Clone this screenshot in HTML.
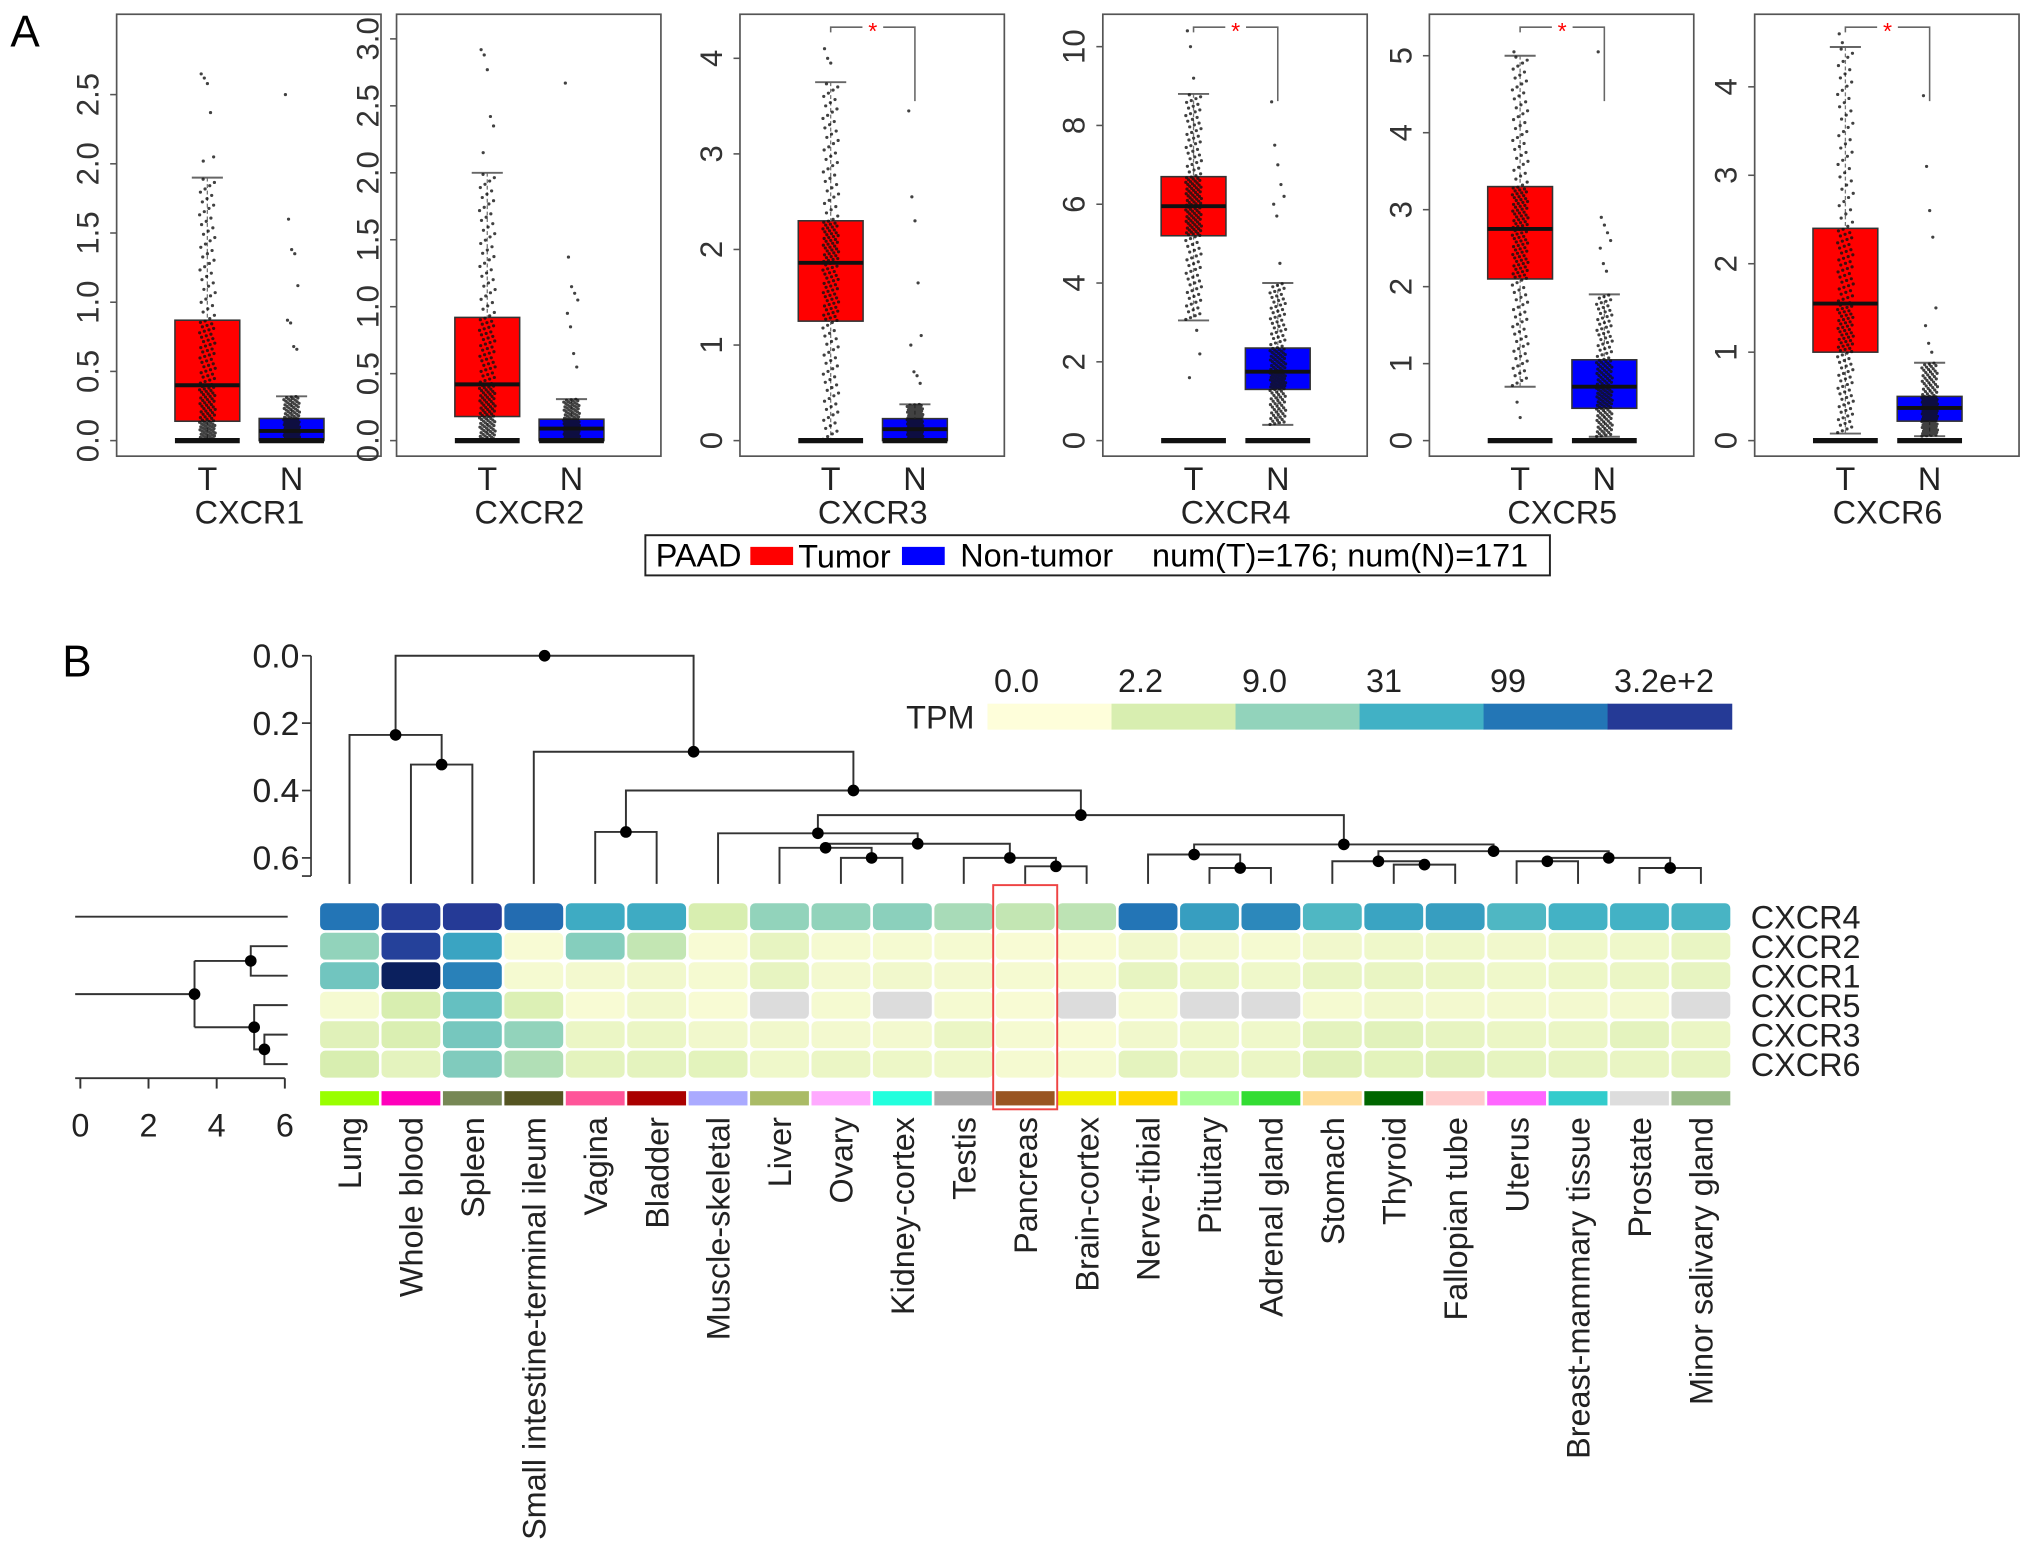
<!DOCTYPE html>
<html><head><meta charset="utf-8"><style>
html,body{margin:0;padding:0;background:#fff}
svg{display:block;font-family:"Liberation Sans",Arial,sans-serif}
</style></head><body>
<svg id="fig" xmlns="http://www.w3.org/2000/svg" width="2032" height="1559" viewBox="0 0 1568 1203" preserveAspectRatio="none">
<text x="8" y="36" font-size="34">A</text>
<text x="48" y="522" font-size="34">B</text>
<g id="pa"></g>
<g>
<rect x="498" y="413" width="698" height="31" fill="none" stroke="#222" stroke-width="1.5"/>
<text x="506" y="437" font-size="25">PAAD</text>
<rect x="579" y="422" width="33" height="14" fill="#f00"/>
<text x="616" y="438" font-size="25">Tumor</text>
<rect x="696" y="422" width="33" height="14" fill="#00f"/>
<text x="741" y="437" font-size="25">Non-tumor</text>
<text x="889" y="437" font-size="25">num(T)=176; num(N)=171</text>
</g>
<g id="pb"></g>
</svg>
<script>
// ---------- Panel A data ----------
const genesA = ["CXCR1","CXCR2","CXCR3","CXCR4","CXCR5","CXCR6"];
const yMaxTick = [2.5,3.0,4,10,5,4];
const yTickStep = [0.5,0.5,1,2,1,1];
const yTickDec = [1,1,0,0,0,0];
const tumorLo = [0,0,0,3.05,0.7,0.08];
const tumorQ1 = [0.14,0.18,1.25,5.2,2.1,1.0];
const tumorMed = [0.40,0.42,1.86,5.95,2.75,1.55];
const tumorQ3 = [0.87,0.92,2.3,6.7,3.3,2.4];
const tumorHi = [1.9,2.0,3.75,8.8,5.0,4.45];
const normalLo = [0,0,0,0.4,0.05,0.05];
const normalQ1 = [0.0,0.0,0.0,1.3,0.42,0.22];
const normalMed = [0.07,0.09,0.12,1.75,0.7,0.37];
const normalQ3 = [0.16,0.16,0.23,2.35,1.05,0.5];
const normalHi = [0.32,0.31,0.38,4.0,1.9,0.88];
const tumorOut = [[2.65,2.62,2.58,2.37,2.05,2.02],[2.92,2.88,2.77,2.42,2.35,2.15],[4.1,4.0,3.95],[10.4,10.0,9.2,2.8,2.2,1.6],[5.05,0.5,0.3],[4.6,4.5]];
const normalOut = [[2.5,1.6,1.38,1.35,1.12,0.87,0.85,0.68,0.66],[2.67,1.37,1.15,1.1,1.05,0.95,0.85,0.65,0.55],[3.45,2.55,2.3,1.65,1.1,1.0,0.72,0.68,0.6],[8.6,7.5,7.0,6.5,6.2,6.0,5.7,4.5],[5.05,2.9,2.8,2.7,2.6,2.5,2.3,2.2],[3.9,3.1,2.6,2.3,1.5,1.3,1.1,1.0]];
const significant = [false,false,true,true,true,true];
const nTumor = 176, nNormal = 171;

// ---------- Panel B data ----------
const tissues = ["Lung","Whole blood","Spleen","Small intestine-terminal ileum","Vagina","Bladder","Muscle-skeletal","Liver","Ovary","Kidney-cortex","Testis","Pancreas","Brain-cortex","Nerve-tibial","Pituitary","Adrenal gland","Stomach","Thyroid","Fallopian tube","Uterus","Breast-mammary tissue","Prostate","Minor salivary gland"];
const tissueColors = ["#99ff00","#ff00bb","#778855","#555522","#ff5599","#aa0000","#aaaaff","#aabb66","#ffaaff","#22ffdd","#aaaaaa","#995522","#eeee00","#ffd700","#aaff99","#33dd33","#ffdd99","#006600","#ffcccc","#ff66ff","#33cccc","#dddddd","#99bb88"];
const genesB = ["CXCR4","CXCR2","CXCR1","CXCR5","CXCR3","CXCR6"];
// TPM values, rows = genesB, null = NA
const tpmCXCR4 = [100,300,320,120,35,35,2.2,9,9,10,6,3.5,4,100,45,70,25,40,45,25,30,30,28];
const tpmCXCR2 = [9,280,40,0.2,11,3.5,0.2,1.0,0.3,0.3,0.3,0.2,0.2,0.5,0.4,0.3,0.5,0.6,0.6,0.5,0.6,0.6,0.9];
const tpmCXCR1 = [15,900,80,0.3,0.4,0.5,0.3,1.0,0.4,0.5,0.4,0.3,0.3,1.0,0.8,0.6,0.9,0.9,0.8,0.6,0.7,0.8,1.0];
const tpmCXCR5 = [0.3,2.2,18,1.8,0.2,0.5,0.2,null,0.3,null,0.3,0.2,null,0.3,null,null,0.3,0.5,0.4,0.4,0.4,0.4,null];
const tpmCXCR3 = [1.5,2,14,9,0.8,0.8,0.5,0.5,0.4,0.4,0.8,0.3,0.2,0.5,0.6,0.6,1.2,1.4,1.0,0.8,0.8,1.2,0.8];
const tpmCXCR6 = [2.2,1.2,12,5,1.2,1.2,1.3,0.6,0.8,0.7,0.6,0.3,0.3,1.2,0.8,0.8,1.5,1.3,1.5,1.1,1.0,0.9,1.0];
const legendTicks = ["0.0","2.2","9.0","31","99","3.2e+2"];
const legendBreaks = [0,2.2,9,31,99,320];
// column dendrogram merges (R hclust style: negative = leaf index+1, positive = merge number)
const mergeLeft  = [-2,-1,-5,-9,-8,-12,-11,5,-7,-15,-14,-18,-17,-20,-22,14,13,11,9,3,-4,2];
const mergeRight = [-3,1,-6,-10,4,-13,6,7,8,-16,10,-19,12,-21,-23,15,16,17,18,19,20,21];
const mergeHeight = [0.323,0.235,0.523,0.60,0.57,0.625,0.60,0.558,0.527,0.63,0.59,0.62,0.61,0.61,0.63,0.60,0.58,0.56,0.473,0.40,0.285,0.0];
const topAxisTicks = [0.0,0.2,0.4,0.6];
const leftAxisTicks = [0,2,4,6];
// row dendrogram (distance values)
const rowNodeDist = {c21:5.0, root:3.35, c5_36:5.1, c36:5.4};

const NS="http://www.w3.org/2000/svg";
function mk(tag, attrs, parent, txt){const e=document.createElementNS(NS,tag);for(const k in attrs)e.setAttribute(k,attrs[k]);if(txt!==undefined)e.textContent=txt;parent.appendChild(e);return e;}

// ---------- draw panel A ----------
const pa=document.getElementById('pa');
const frameLeft=[90,306,571,851,1103,1354], frameW=204, frameTop=11, frameBot=352, y0=340;
const yTopPx=[73,30,45,36,43,67];
genesA.forEach((g,i)=>{
  const gp=mk('g',{},pa);
  
  
  const fl=frameLeft[i];
  const ys=v=>y0-(v/yMaxTick[i])*(y0-yTopPx[i]);
  const fr=mk('rect',{x:fl,y:frameTop,width:frameW,height:frameBot-frameTop,fill:'none',stroke:'#555','stroke-width':1.3},gp);
  
  
  for(let v=0;v<=yMaxTick[i]+1e-9;v+=yTickStep[i]){
    const y=ys(v);
    mk('line',{x1:fl-5,x2:fl,y1:y,y2:y,stroke:'#555','stroke-width':1.2},gp);
    const t=mk('text',{x:0,y:0,'font-size':24,'text-anchor':'middle',fill:'#333',transform:`translate(${fl-14},${y}) rotate(-90)`},gp,v.toFixed(yTickDec[i]));
    
    
  }
  const xs=[fl+70,fl+135];
  const groups=[[tumorLo,tumorQ1,tumorMed,tumorQ3,tumorHi,tumorOut,'#ff0000',nTumor],[normalLo,normalQ1,normalMed,normalQ3,normalHi,normalOut,'#0000ff',nNormal]];
  groups.forEach((G,j)=>{
    const cx=xs[j], bw=50;
    const lo=G[0][i],q1=G[1][i],md=G[2][i],q3=G[3][i],hi=G[4][i];
    const b=mk('rect',{x:cx-bw/2,y:ys(q3),width:bw,height:ys(q1)-ys(q3),fill:G[6],stroke:'#333','stroke-width':1.2},gp);
    
    
    mk('line',{x1:cx,x2:cx,y1:ys(hi),y2:ys(q3),stroke:'#777','stroke-width':1,'stroke-dasharray':'3,2'},gp);
    mk('line',{x1:cx,x2:cx,y1:ys(q1),y2:ys(lo),stroke:'#777','stroke-width':1,'stroke-dasharray':'3,2'},gp);
    mk('line',{x1:cx-12,x2:cx+12,y1:ys(hi),y2:ys(hi),stroke:'#666','stroke-width':1.5},gp);
    if(lo>0.01) mk('line',{x1:cx-12,x2:cx+12,y1:ys(lo),y2:ys(lo),stroke:'#666','stroke-width':1.5},gp);
    // points placed at distribution positions implied by the box statistics
    const qs=[lo,q1,md,q3,hi], n=G[7];
    let pts='';
    for(let k=0;k<n;k++){
      const p=(k+0.5)/n*4, s=Math.min(3,Math.floor(p)), f=p-s;
      const v=qs[s]+(qs[s+1]-qs[s])*f;
      const jx=((k*53)%41-20)/20*6;
      pts+=`M${(cx+jx).toFixed(1)},${ys(v).toFixed(1)}h0.1`;
    }
    G[5][i].forEach((v,k)=>{const jx=((k*29)%13-6)*0.8;pts+=`M${(cx+jx).toFixed(1)},${ys(v).toFixed(1)}h0.1`;});
    const pp=mk('path',{d:pts,stroke:'#111','stroke-width':2.4,'stroke-linecap':'round',fill:'none',opacity:0.8},gp);
    
    
    mk('line',{x1:cx-bw/2,x2:cx+bw/2,y1:ys(md),y2:ys(md),stroke:'#111','stroke-width':3},gp);
    mk('line',{x1:cx-bw/2,x2:cx+bw/2,y1:y0,y2:y0,stroke:'#111','stroke-width':4},gp);
    const tl=mk('text',{x:cx,y:378,'font-size':25,'text-anchor':'middle',fill:'#222'},gp,j?'N':'T');
    
    
  });
  const gl=mk('text',{x:(xs[0]+xs[1])/2,y:404,'font-size':25,'text-anchor':'middle',fill:'#222'},gp,g);
  
  
  if(significant[i]){
    const yTop=21, yRight=78;
    const br=mk('path',{d:`M${xs[0]},${yTop+4}V${yTop}H${xs[1]}V${yRight}`,fill:'none',stroke:'#666','stroke-width':1.2},gp);
    
    
    mk('rect',{x:(xs[0]+xs[1])/2-8,y:yTop-3,width:16,height:6,fill:'#fff'},gp);
    const st=mk('text',{x:(xs[0]+xs[1])/2,y:yTop+9,'font-size':18,'text-anchor':'middle',fill:'#f00'},gp,'*');
    
    
  }
});

// ---------- draw panel B ----------
const pb=document.getElementById('pb');
const hx0=246, colW=47.4, hy0=696, rowH=22.75;
const colX=i=>hx0+colW*(i+0.5);
const dY=h=>506+h*260;
const leafBottom=682;
const stopV=[0,2.2,9,31,99,320,1000];
const stopC=["#fefedb","#d8eeb0","#92d3bb","#41b1c5","#2376b6","#253a96","#081d58"];
const binC=["#fefeda","#d8eeb0","#92d3bb","#41b1c5","#2376b6","#253a96"];
function hex2rgb(h){return [1,3,5].map(k=>parseInt(h.substr(k,2),16));}
function colorFor(v){
  if(v===null) return '#dcdcdc';
  const L=x=>Math.log10(x+1);
  for(let k=0;k<stopV.length-1;k++){
    if(v<=stopV[k+1]){const f=(L(v)-L(stopV[k]))/(L(stopV[k+1])-L(stopV[k]));
      const a=hex2rgb(stopC[k]),b=hex2rgb(stopC[k+1]);
      return `rgb(${a.map((c,m)=>Math.round(c+(b[m]-c)*f)).join(',')})`;}
  }
  return stopC[stopC.length-1];
}
const lg=mk('g',{},pb);


const tpmT=mk('text',{x:752,y:562,'font-size':25,'text-anchor':'end',fill:'#222'},lg,'TPM');


legendBreaks.forEach((b,k)=>{
  const bx=762+k*95.7;
  const r=mk('rect',{x:bx,y:543,width:96.2,height:20,fill:binC[k]},lg);
  
  
  const t=mk('text',{x:bx+5,y:534,'font-size':25,fill:'#222'},lg,legendTicks[k]);
  
  
});
const ta=mk('g',{},pb);


mk('line',{x1:240,x2:240,y1:dY(0),y2:676,stroke:'#333','stroke-width':1.3},ta);
mk('line',{x1:233,x2:240,y1:676,y2:676,stroke:'#333','stroke-width':1.3},ta);
topAxisTicks.forEach(v=>{
  mk('line',{x1:233,x2:240,y1:dY(v),y2:dY(v),stroke:'#333','stroke-width':1.3},ta);
  const t=mk('text',{x:231,y:dY(v)+9,'font-size':26,'text-anchor':'end',fill:'#222'},ta,v.toFixed(1));
  
  
});
const dg=mk('g',{},pb);


const nodeX=[], nodeY=[];
function childPos(c){return c<0?[colX(-c-1),leafBottom]:[nodeX[c-1],nodeY[c-1]];}
mergeLeft.forEach((l,m)=>{
  const a=childPos(l), b=childPos(mergeRight[m]), y=dY(mergeHeight[m]);
  nodeX[m]=(a[0]+b[0])/2; nodeY[m]=y;
  mk('path',{d:`M${a[0]},${a[1]}V${y}H${b[0]}V${b[1]}`,fill:'none',stroke:'#333','stroke-width':1.5},dg);
});
mergeLeft.forEach((l,m)=>{
  const c=mk('circle',{cx:nodeX[m],cy:nodeY[m],r:4.5,fill:'#000'},dg);
  
  
});
const tpmRows=[tpmCXCR4,tpmCXCR2,tpmCXCR1,tpmCXCR5,tpmCXCR3,tpmCXCR6];
const hg=mk('g',{},pb);


tpmRows.forEach((row,r)=>{
  row.forEach((v,c)=>{
    const cell=mk('rect',{x:hx0+colW*c+1,y:hy0+rowH*r+1,width:colW-2,height:rowH-2,rx:4,fill:colorFor(v)},hg);
    
    
  });
  const t=mk('text',{x:1351,y:hy0+rowH*(r+0.5)+9,'font-size':25,fill:'#222'},pb,genesB[r]);
  
  
});
tissues.forEach((t,c)=>{
  const s=mk('rect',{x:hx0+colW*c+1,y:842,width:colW-2,height:11,fill:tissueColors[c]},pb);
  
  
  const tx=mk('text',{x:0,y:0,'font-size':25,'text-anchor':'end',fill:'#222',transform:`translate(${colX(c)+9},862) rotate(-90)`},pb,t);
  
  
});
const hl=mk('rect',{x:hx0+colW*11-1,y:683,width:colW+2,height:173,fill:'none',stroke:'#ee4444','stroke-width':1.5},pb);


const rg=mk('g',{},pb);


const rX=v=>62+v*26.3, rowY=r=>hy0+rowH*(r+0.5), leafX=222;
const yA=(rowY(1)+rowY(2))/2, yD=(rowY(4)+rowY(5))/2, yC=(rowY(3)+yD)/2, yR=(yA+yC)/2;
const rl='#333';
mk('path',{d:`M58,${rowY(0)}H${leafX}`,stroke:rl,'stroke-width':1.5,fill:'none'},rg);
mk('path',{d:`M58,${yR}H${rX(rowNodeDist.root)}M${rX(rowNodeDist.root)},${yA}V${yC}M${rX(rowNodeDist.root)},${yA}H${rX(rowNodeDist.c21)}M${rX(rowNodeDist.root)},${yC}H${rX(rowNodeDist.c5_36)}`,stroke:rl,'stroke-width':1.5,fill:'none'},rg);
mk('path',{d:`M${leafX},${rowY(1)}H${rX(rowNodeDist.c21)}V${rowY(2)}H${leafX}`,stroke:rl,'stroke-width':1.5,fill:'none'},rg);
mk('path',{d:`M${leafX},${rowY(3)}H${rX(rowNodeDist.c5_36)}V${yD}H${rX(rowNodeDist.c36)}`,stroke:rl,'stroke-width':1.5,fill:'none'},rg);
mk('path',{d:`M${leafX},${rowY(4)}H${rX(rowNodeDist.c36)}V${rowY(5)}H${leafX}`,stroke:rl,'stroke-width':1.5,fill:'none'},rg);
[[rX(rowNodeDist.root),yR],[rX(rowNodeDist.c21),yA],[rX(rowNodeDist.c5_36),yC],[rX(rowNodeDist.c36),yD]].forEach(p=>{
  const c=mk('circle',{cx:p[0],cy:p[1],r:4.5,fill:'#000'},rg);
  
  
});
mk('line',{x1:58,x2:rX(6),y1:832,y2:832,stroke:'#333','stroke-width':1.5},rg);
leftAxisTicks.forEach(v=>{
  mk('line',{x1:rX(v),x2:rX(v),y1:832,y2:840,stroke:'#333','stroke-width':1.5},rg);
  const t=mk('text',{x:rX(v),y:877,'font-size':25,'text-anchor':'middle',fill:'#222'},rg,String(v));
  
  
});
</script>
</body></html>
